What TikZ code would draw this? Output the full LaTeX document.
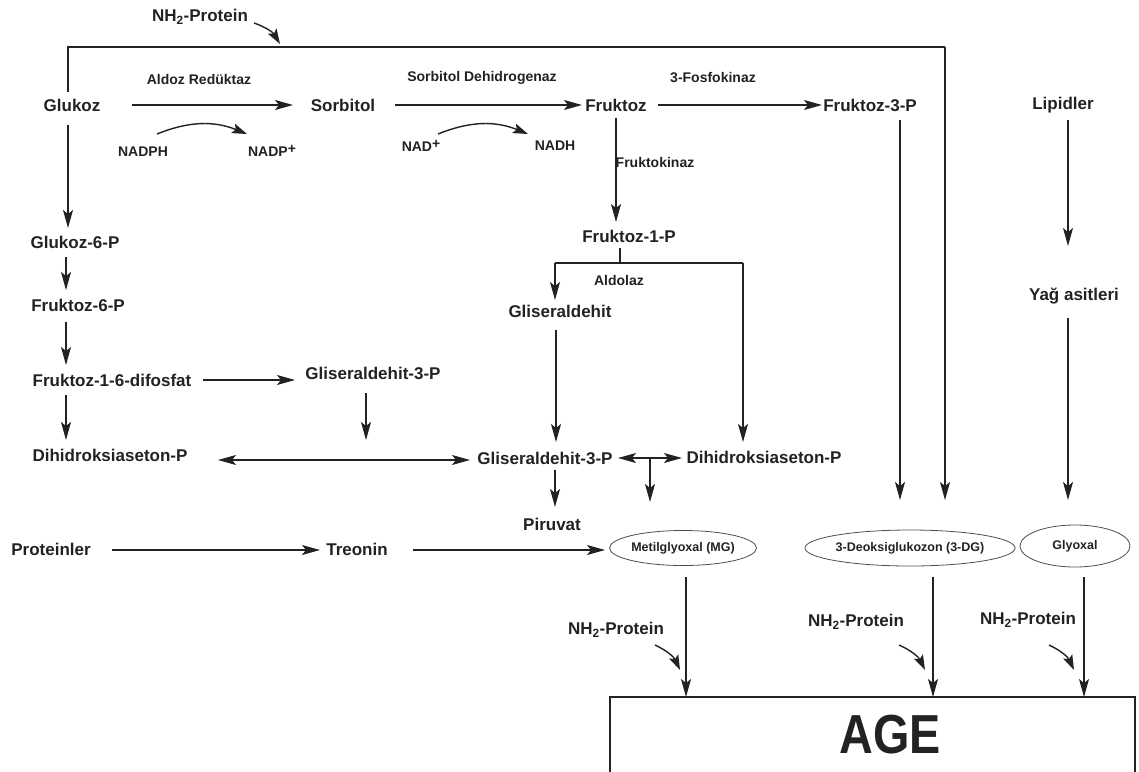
\documentclass[tikz,border=0pt]{standalone}
\usepackage{fontspec}
\usepackage{graphicx}
\setmainfont{Liberation Sans}
\usetikzlibrary{arrows.meta,shapes.geometric}
\definecolor{ink}{HTML}{222222}
\tikzset{
  lbl/.style={inner sep=0pt, text=ink, font=\fontsize{17}{20}\selectfont\bfseries},
  sml/.style={inner sep=0pt, text=ink, font=\fontsize{14}{16}\selectfont\bfseries},
  ell/.style={ellipse, draw=ink!80, line width=0.8pt, inner sep=0pt, text=ink, font=\fontsize{12.5}{14}\selectfont\bfseries},
  ln/.style={draw=ink, line width=1.2pt},
  arr/.style={ln, -{Stealth[length=18pt,width=10pt,inset=4pt]}},
  darr/.style={ln, {Stealth[length=18pt,width=10pt,inset=4pt]}-{Stealth[length=18pt,width=10pt,inset=4pt]}},
  carr/.style={draw=ink, line width=1.4pt, -{Stealth[length=15pt,width=10pt,inset=3pt]}}
}
\begin{document}
\begin{tikzpicture}[x=1pt,y=-1pt]
\useasboundingbox (0,0) rectangle (1139,771);
% nodes
\node[lbl] (nhtop) at (200,17) {NH\textsubscript{2}-Protein};
\node[lbl] (glukoz) at (72,105) {Glukoz};
\node[lbl] (sorbitol) at (343,105) {Sorbitol};
\node[lbl] (fruktoz) at (616,105) {Fruktoz};
\node[lbl] (f3p) at (870,105) {Fruktoz-3-P};
\node[lbl] (lipidler) at (1063,105) {Lipidler};
\node[sml] (aldoz) at (199,79) {Aldoz Redüktaz};
\node[sml] (sdh) at (482,78) {Sorbitol Dehidrogenaz};
\node[sml] (fosfo) at (713,78) {3-Fosfokinaz};
\node[sml] (nadph) at (143,152) {NADPH};
\node[sml] (nadp) at (272,151) {NADP\raisebox{0.45ex}{+}};
\node[sml] (nad) at (421,146) {NAD\raisebox{0.45ex}{+}};
\node[sml] (nadh) at (555,146) {NADH};
\node[sml] (fk) at (655,162) {Fruktokinaz};
\node[lbl] (g6p) at (75,242) {Glukoz-6-P};
\node[lbl] (f6p) at (78,305) {Fruktoz-6-P};
\node[lbl] (f16) at (112,380) {Fruktoz-1-6-difosfat};
\node[lbl] (gl3pL) at (373,373) {Gliseraldehit-3-P};
\node[lbl] (dhapL) at (110,455) {Dihidroksiaseton-P};
\node[lbl] (f1p) at (629,236) {Fruktoz-1-P};
\node[sml] (aldolaz) at (619,280) {Aldolaz};
\node[lbl] (glis) at (560,311) {Gliseraldehit};
\node[lbl] (gl3pM) at (545,458) {Gliseraldehit-3-P};
\node[lbl] (dhapR) at (764,457) {Dihidroksiaseton-P};
\node[lbl] (piruvat) at (552,524) {Piruvat};
\node[lbl] (protein) at (51,549) {Proteinler};
\node[lbl] (treonin) at (357,549) {Treonin};
\node[ell, minimum width=147, minimum height=35] (mg) at (683,548) {Metilglyoxal (MG)};
\node[ell, minimum width=196, minimum height=36] (dg) at (910,548) {3-Deoksiglukozon (3-DG)};
\node[ell, minimum width=110, minimum height=42] (gly) at (1075,546) {Glyoxal};
\node[lbl] (yag) at (1074,296) {Yağ asitleri};
\node[lbl] (nh1) at (616,630) {NH\textsubscript{2}-Protein};
\node[lbl] (nh2) at (856,622) {NH\textsubscript{2}-Protein};
\node[lbl] (nh3) at (1028,620) {NH\textsubscript{2}-Protein};
\node[inner sep=0pt, text=ink, font=\fontsize{55}{60}\selectfont\bfseries] (age) at (890,735) {\scalebox{0.85}[1]{AGE}};
% coordinates
\coordinate (topL) at (68,47);
\coordinate (topR) at (945,47);
\coordinate (dgin) at (945,500);
\coordinate (f1pA) at (620,248);
\coordinate (f1pB) at (620,263);
\coordinate (brL) at (555,263);
\coordinate (brR) at (743,263);
\coordinate (midB) at (650,458);
\coordinate (ageTL) at (610,697);
\coordinate (ageTR) at (1135,697);
% top bracket
\draw[ln] (68,92) -- (topL) -- (topR);
\draw[arr] (topR) -- (dgin);
\draw[carr] (254,23) to[bend left=20] (280,44);
\draw[arr] (68,125) -- (68,228);
% row 1
\draw[arr] (132,105) -- (293,105);
\draw[arr] (395,105) -- (582,105);
\draw[arr] (658,105) -- (822,105);
\draw[carr] (157,134) to[bend left=22] (247,134);
\draw[carr] (438,134) to[bend left=22] (528,134);
% fruktoz branch
\draw[arr] (616,118) -- (616,222);
\draw[ln] (f1pA) -- (f1pB);
\draw[ln] (brL) -- (brR);
\draw[arr] (brL) -- (555,300);
\draw[arr] (brR) -- (743,442);
\draw[arr] (556,330) -- (556,442);
\draw[darr] (618,458) -- (682,458);
\draw[arr] (midB) -- (650,502);
\draw[arr] (555,470) -- (555,507);
% left column
\draw[arr] (66,257) -- (66,290);
\draw[arr] (66,322) -- (66,365);
\draw[arr] (66,395) -- (66,440);
\draw[arr] (203,380) -- (295,380);
\draw[arr] (366,393) -- (366,440);
\draw[darr] (218,460) -- (470,460);
% bottom row
\draw[arr] (112,550) -- (320,550);
\draw[arr] (413,550) -- (605,550);
% right columns
\draw[arr] (900,120) -- (900,500);
\draw[arr] (1068,120) -- (1068,246);
\draw[arr] (1068,318) -- (1068,500);
% to AGE
\draw[arr] (686,577) -- (686,697);
\draw[arr] (933,577) -- (933,697);
\draw[arr] (1084,577) -- (1084,697);
\draw[carr] (655,645) to[bend left=20] (680,670);
\draw[carr] (899,645) to[bend left=20] (925,670);
\draw[carr] (1049,645) to[bend left=20] (1074,670);
% AGE box
\draw[ln] (610,775) -- (ageTL) -- (ageTR) -- (1135,775);
\end{tikzpicture}
\end{document}
